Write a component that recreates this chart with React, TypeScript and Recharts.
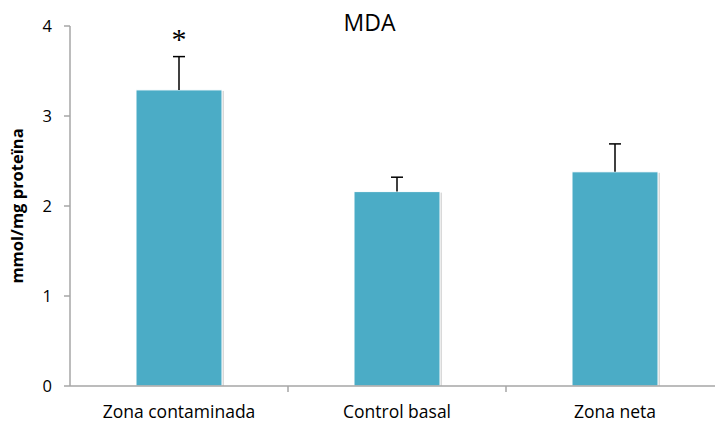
import { BarChart, Bar, XAxis, YAxis, Label } from "recharts";

const categories = ["Zona contaminada", "Control basal", "Zona neta"];
const mdaValues = [3.29, 2.16, 2.38];
const mdaErrors = [0.37, 0.16, 0.31];
const marks = ["*", "", ""];
const yTicks = [0, 1, 2, 3, 4];

const data = categories.map((name, i) => ({
  name,
  mda: mdaValues[i],
  err: mdaErrors[i],
  mark: marks[i],
}));

const FONT = "'Open Sans', 'Liberation Sans', sans-serif";
const BAR = "#4bacc6";

// bar with faint shadow + upward-only error bar
function BarWithError(props: any) {
  const { x, y, width, height, payload } = props;
  if (!height) return null;
  const perUnit = height / payload.mda;
  const cx = x + width / 2;
  const top = y - payload.err * perUnit;
  return (
    <g>
      <rect x={x + 2} y={y + 1} width={width} height={height - 1} fill="#d9d9d9" />
      <rect x={x} y={y} width={width} height={height} fill={BAR} stroke="#ffffff" strokeWidth={1} />
      <line x1={cx} y1={y} x2={cx} y2={top} stroke="#000" strokeWidth={1.5} />
      <line x1={cx - 6} y1={top} x2={cx + 6} y2={top} stroke="#000" strokeWidth={1.5} />
      {payload.mark ? (
        <text x={cx} y={top - 8} textAnchor="middle" fontSize={30} fontFamily="'Liberation Serif', serif" fill="#000">
          {payload.mark}
        </text>
      ) : null}
    </g>
  );
}

function CategoryTick(props: any) {
  const { x, y, payload, index } = props;
  const edge = x + (payload.offset || 0);
  return (
    <g>
      {index < categories.length - 1 && (
        <line x1={edge} y1={y - 8} x2={edge} y2={y - 2} stroke="#a6a6a6" strokeWidth={1.5} />
      )}
      <text x={x} y={y + 24} textAnchor="middle" fontSize={17.5} fontFamily={FONT} fill="#000">
        {payload.value}
      </text>
    </g>
  );
}

export default function App() {
  return (
    <div
      style={{
        position: "absolute",
        left: 0,
        top: 0,
        width: 715,
        height: 422,
        overflow: "hidden",
        background: "#fff",
      }}
    >
      <div
        style={{
          position: "absolute",
          left: 0,
          top: 6,
          width: 715,
          textAlign: "center",
          fontFamily: FONT,
          fontSize: 23,
          lineHeight: "32px",
          color: "#000",
          paddingLeft: 24,
          boxSizing: "border-box",
        }}
      >
        MDA
      </div>
      <BarChart
        width={740}
        height={422}
        data={data}
        margin={{ top: 26, right: 16, left: 0, bottom: 0 }}
      >
        <XAxis
          dataKey="name"
          height={36}
          axisLine={{ stroke: "#a6a6a6", strokeWidth: 1.5 }}
          tickLine={false}
          tick={<CategoryTick />}
          interval={0}
        />
        <YAxis
          width={70}
          domain={[0, 4]}
          ticks={yTicks}
          axisLine={{ stroke: "#a6a6a6", strokeWidth: 1.5 }}
          tickLine={{ stroke: "#a6a6a6", strokeWidth: 1.5 }}
          tickSize={6}
          tickMargin={12}
          tick={{ fill: "#000", fontSize: 16.5, fontFamily: FONT }}
        >
          <Label
            value="mmol/mg proteïna"
            angle={-90}
            position="insideLeft"
            offset={17}
            style={{ textAnchor: "middle", fontWeight: "bold", fontSize: 16.5, fontFamily: FONT, fill: "#000" }}
          />
        </YAxis>
        <Bar dataKey="mda" barSize={86} shape={<BarWithError />} isAnimationActive={false} />
      </BarChart>
    </div>
  );
}
